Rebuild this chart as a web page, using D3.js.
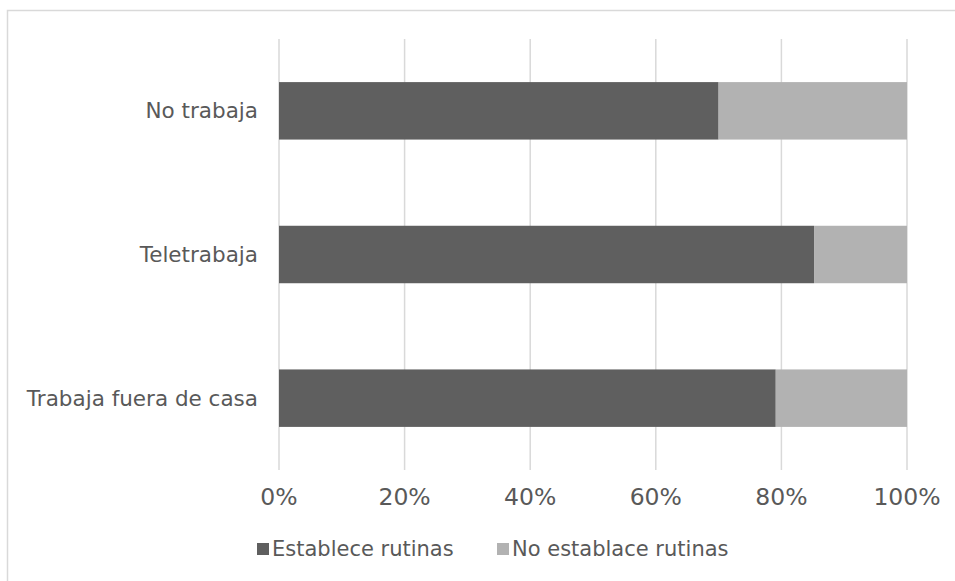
<!DOCTYPE html>
<html>
<head>
<meta charset="utf-8">
<script src="https://cdn.jsdelivr.net/npm/d3@7"></script>
<style>
  body { margin: 0; background: #fff; }
  svg { display: block; }
  text { font-family: "DejaVu Sans", Verdana, sans-serif; fill: #595959; }
</style>
</head>
<body>
<svg id="canvas" width="955" height="581"></svg>
<script>
// chart data
let categories = ['No trabaja', 'Teletrabaja', 'Trabaja fuera de casa'];
let establece = [70, 85.2, 79.1];
let noEstablece = [30, 14.8, 20.9];
let tickValues = [0, 20, 40, 60, 80, 100];
let seriesNames = ['Establece rutinas', 'No establace rutinas'];
let colors = ['#5f5f5f', '#b2b2b2'];

let canvas = d3.select('#canvas');

// outer chart border (only top/left visible in the frame)
canvas.append('rect')
  .attr('x', 7.5).attr('y', 10.5)
  .attr('width', 960).attr('height', 600)
  .attr('fill', 'none')
  .attr('stroke', '#d9d9d9')
  .attr('stroke-width', 1.5);

let plotLeft = 279, plotRight = 907, plotTop = 39, plotBottom = 470;

let xScale = d3.scaleLinear().domain([0, 100]).range([plotLeft, plotRight]);
let yScale = d3.scaleBand().domain(categories).range([plotTop, plotBottom]).paddingInner(0.6).paddingOuter(0.3);

// gridlines
canvas.append('g')
  .selectAll('line')
  .data(tickValues)
  .enter()
  .append('line')
  .attr('x1', (d) => xScale(d))
  .attr('x2', (d) => xScale(d))
  .attr('y1', plotTop)
  .attr('y2', plotBottom)
  .attr('stroke', '#d9d9d9')
  .attr('stroke-width', 1.5);

// stacked bars
let rows = categories.map((c, i) => ({ cat: c, a: establece[i], b: noEstablece[i] }));

let block = canvas.append('g')
  .selectAll('g')
  .data(rows)
  .enter()
  .append('g');

block.append('rect')
  .attr('x', xScale(0))
  .attr('y', (d) => yScale(d.cat))
  .attr('width', (d) => xScale(d.a) - xScale(0))
  .attr('height', yScale.bandwidth())
  .attr('fill', colors[0]);

block.append('rect')
  .attr('x', (d) => xScale(d.a))
  .attr('y', (d) => yScale(d.cat))
  .attr('width', (d) => xScale(d.a + d.b) - xScale(d.a))
  .attr('height', yScale.bandwidth())
  .attr('fill', colors[1]);

// category labels
canvas.append('g')
  .selectAll('text')
  .data(categories)
  .enter()
  .append('text')
  .attr('x', 258)
  .attr('y', (d) => yScale(d) + yScale.bandwidth() / 2)
  .attr('dy', '0.35em')
  .attr('text-anchor', 'end')
  .style('font-size', '21.5px')
  .text((d) => d);

// x tick labels
canvas.append('g')
  .selectAll('text')
  .data(tickValues)
  .enter()
  .append('text')
  .attr('x', (d) => xScale(d))
  .attr('y', 497)
  .attr('dy', '0.35em')
  .attr('text-anchor', 'middle')
  .style('font-size', '23.5px')
  .text((d) => d + '%');

// legend
let legendX = [257, 497];
let legend = canvas.append('g')
  .selectAll('g')
  .data(seriesNames)
  .enter()
  .append('g')
  .attr('transform', (d, i) => 'translate(' + legendX[i] + ', 549)');

legend.append('rect')
  .attr('x', 0).attr('y', -6)
  .attr('width', 12).attr('height', 12)
  .attr('fill', (d, i) => colors[i]);

legend.append('text')
  .attr('x', 15)
  .attr('dy', '0.35em')
  .style('font-size', '21px')
  .text((d) => d);
</script>
</body>
</html>
